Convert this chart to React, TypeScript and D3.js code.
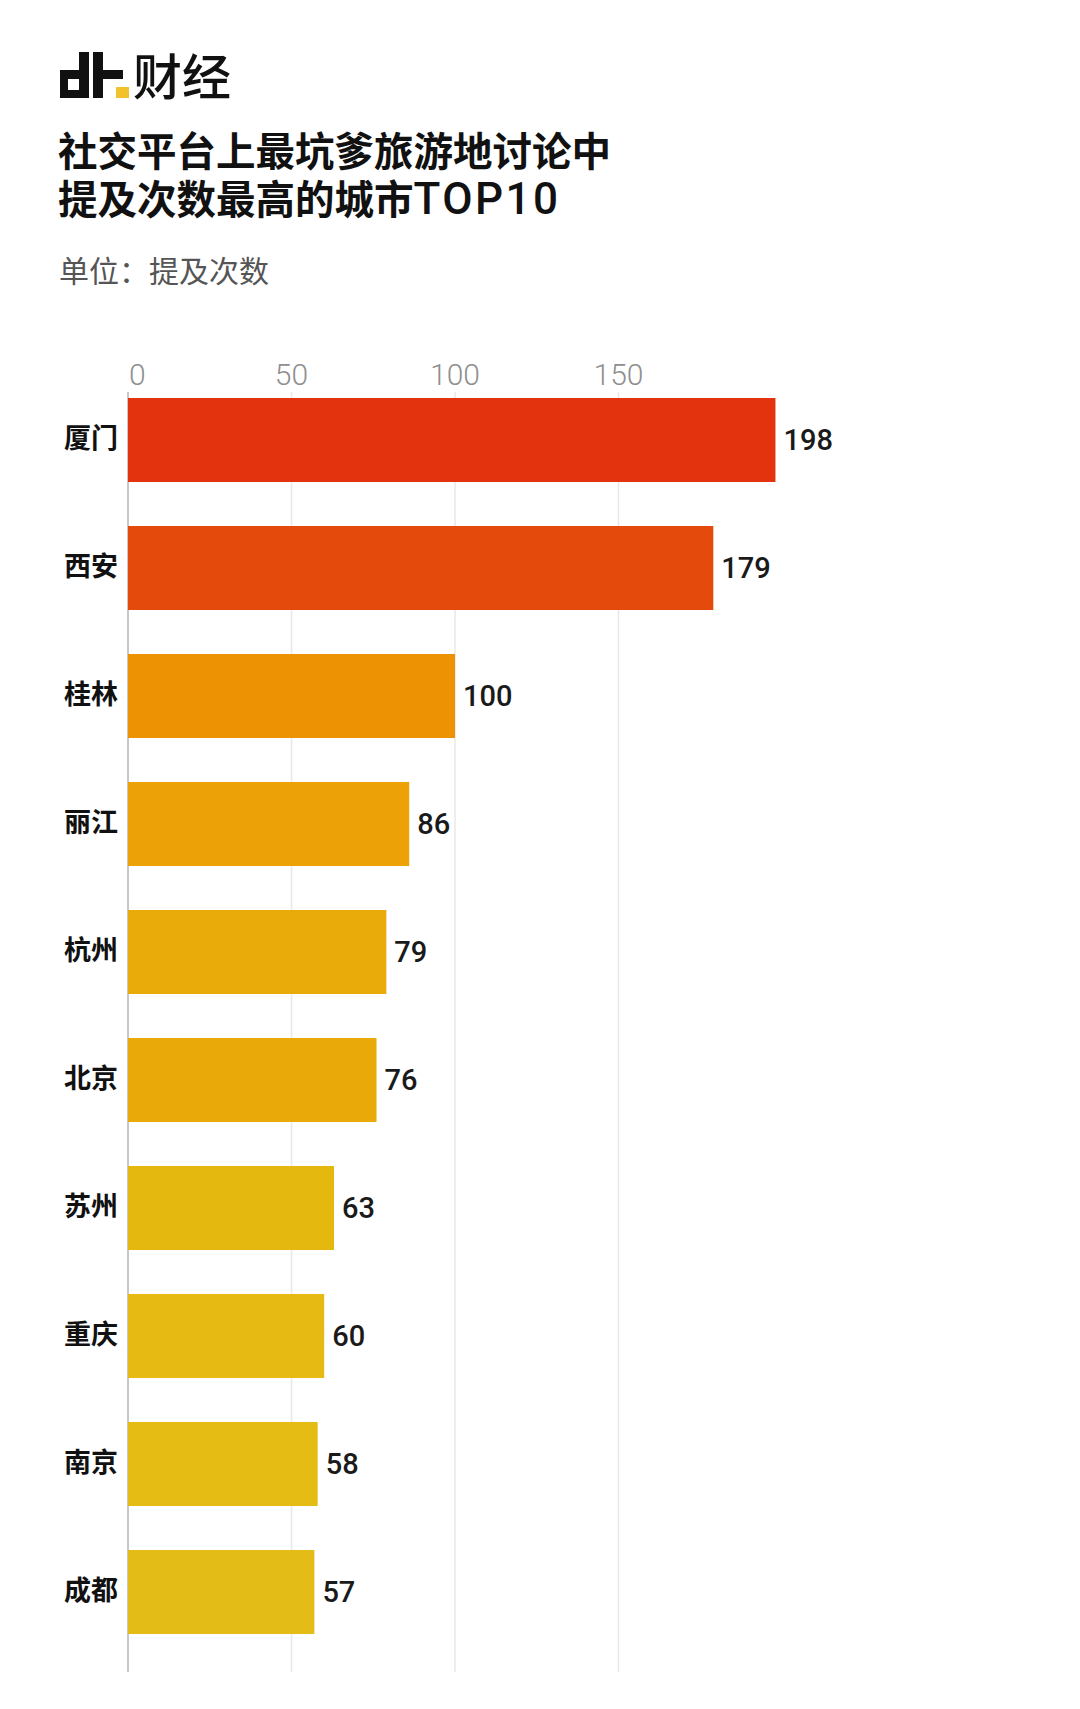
import React from 'react';
import * as d3 from 'd3';

const cities = ['厦门', '西安', '桂林', '丽江', '杭州', '北京', '苏州', '重庆', '南京', '成都'];
const mentions = [198, 179, 100, 86, 79, 76, 63, 60, 58, 57];
const barColors = ['#E2330E', '#E34A0B', '#EC9203', '#ECA206', '#E8AB0A', '#E9A909', '#E5B80F', '#E6BA12', '#E5BC14', '#E4BC17'];
const tickValues = [0, 50, 100, 150];

const titleLine1 = '社交平台上最坑爹旅游地讨论中';
const titleLine2 = '提及次数最高的城市';
const titleLatin = 'TOP10';
const unitText = '单位：提及次数';

const W = 1080;
const H = 1709;
const CJK = '"Noto Sans CJK SC", "Noto Sans", sans-serif';
const NUM = 'Roboto, "Noto Sans", sans-serif';

const App: React.FC = () => {
  const x = d3.scaleLinear().domain([0, 200]).range([128, 782]);
  const y = d3.scaleBand<string>()
    .domain(cities)
    .range([376, 1656])
    .paddingInner(0.34375)
    .paddingOuter(0.171875);

  const gridTop = 392;
  const gridBottom = 1672;

  return (
    <svg
      width={W}
      height={H}
      style={{ position: 'absolute', left: 0, top: 0, display: 'block', background: '#fff' }}
    >
      <rect width={W} height={H} fill="#fff" />

      {/* logo */}
      <g fill="#111">
        <rect x={60} y={70} width={29} height={28} />
        <rect x={79} y={52} width={10} height={46} />
        <rect x={93} y={52} width={10} height={46} />
        <rect x={103} y={70} width={20} height={9} />
      </g>
      <rect x={68} y={79} width={11} height={11} fill="#fff" />
      <rect x={116} y={87} width={13} height={11} fill="#F2C12E" />
      <text x={133} y={95} fontFamily={CJK} fontSize={49} fontWeight={500} fill="#111">财经</text>

      {/* title */}
      <text x={58} y={166} fontFamily={CJK} fontSize={39.5} fontWeight={700} fill="#111">
        {titleLine1}
      </text>
      <text x={58} y={214} fontFamily={CJK} fontSize={39.5} fontWeight={700} fill="#111">
        {titleLine2}
        <tspan fontFamily={NUM} fontWeight={500} fontSize={44} letterSpacing={2.5}>{titleLatin}</tspan>
      </text>
      <text x={59} y={282} fontFamily={CJK} fontSize={30} fill="#555">{unitText}</text>

      {/* grid */}
      {tickValues.map(v => (
        <g key={v}>
          <line
            x1={x(v)}
            x2={x(v)}
            y1={gridTop}
            y2={gridBottom}
            stroke={v === 0 ? '#c4c8cc' : '#e8e8e8'}
            strokeWidth={v === 0 ? 2 : 1.5}
          />
          <text
            x={v === 0 ? x(v) + 1 : x(v)}
            y={385}
            textAnchor={v === 0 ? 'start' : 'middle'}
            fontFamily={NUM}
            fontWeight={300}
            fontSize={30}
            fill="#8f8f8f"
          >
            {v}
          </text>
        </g>
      ))}

      {/* bars */}
      {cities.map((c, i) => {
        const by = y(c)!;
        const bh = y.bandwidth();
        const cy = by + bh / 2;
        return (
          <g key={c}>
            <rect x={x(0)} y={by} width={x(mentions[i]) - x(0)} height={bh} fill={barColors[i]} />
            <text
              x={118}
              y={cy}
              dy="0.3em"
              textAnchor="end"
              fontFamily={CJK}
              fontWeight={700}
              fontSize={27}
              fill="#111"
            >
              {c}
            </text>
            <text
              x={x(mentions[i]) + 8}
              y={cy}
              dy="0.33em"
              fontFamily={NUM}
              fontWeight={500}
              fontSize={29}
              fill="#1a1a1a"
            >
              {mentions[i]}
            </text>
          </g>
        );
      })}
    </svg>
  );
};

export default App;
